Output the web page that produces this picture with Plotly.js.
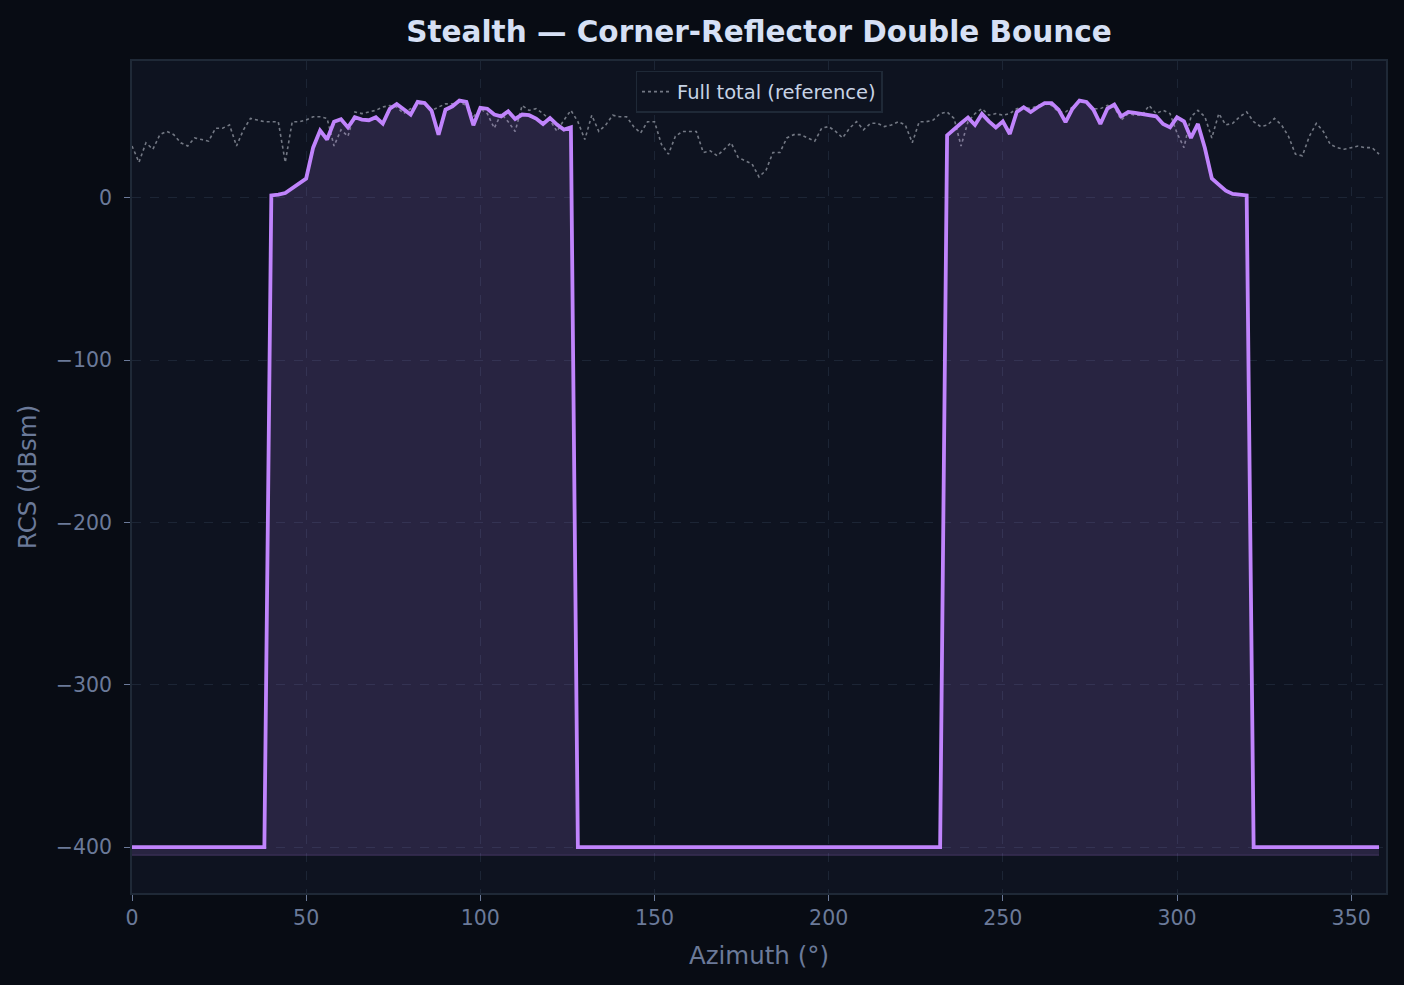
<!DOCTYPE html>
<html>
<head>
<meta charset="utf-8">
<script src="https://cdn.plot.ly/plotly-3.0.1.min.js"></script>
<style>
  html, body { margin: 0; padding: 0; background: #080c14; }
  #chart { width: 1404px; height: 985px; }
</style>
</head>
<body>
<div id="chart"></div>
<script>
// Azimuth samples, every 2 degrees
const azimuth = Array.from({length: 180}, (_, i) => i * 2);

// Full total RCS (reference), dBsm
const fullTotal = [
  32, 22, 34, 30, 39, 41, 39, 34, 32, 37,   // 0-18
  36, 35, 43, 43, 45, 32, 42, 49, 48, 47,   // 20-38
  47, 47, 22, 47, 47, 48, 50, 50, 49, 32,   // 40-58
  42, 38, 53, 52, 53, 54, 56, 57, 56, 52,   // 60-78
  55, 58, 58, 54, 56, 58, 58, 59, 57, 50,   // 80-98
  55, 52, 43, 52, 47, 41, 57, 54, 55, 52,   // 100-118
  48, 41, 48, 54, 47, 36, 51, 41, 45, 51,   // 120-138
  50, 50, 44, 40, 47, 47, 33, 27, 38, 41,   // 140-158
  41, 41, 28, 29, 26, 30, 34, 25, 23, 21,   // 160-178
  13, 17, 28, 28, 37, 39, 39, 37, 35, 43,   // 180-198
  44, 41, 37, 43, 47, 42, 46, 46, 44, 45,   // 200-218
  47, 45, 34, 47, 47, 48, 52, 53, 49, 32,   // 220-238
  47, 52, 55, 51, 52, 51, 52, 55, 56, 55,   // 240-258
  57, 58, 57, 53, 53, 56, 60, 59, 55, 55,   // 260-278
  57, 56, 48, 52, 51, 51, 57, 52, 54, 52,   // 280-298
  40, 31, 50, 54, 50, 37, 52, 45, 46, 50,   // 300-318
  53, 47, 44, 45, 49, 45, 38, 27, 26, 38,   // 320-338
  46, 41, 33, 31, 30, 31, 32, 31, 31, 27    // 340-358
];

// Corner-reflector double-bounce RCS, dBsm (-400 = no return)
const doubleBounce = [
  -400, -400, -400, -400, -400, -400, -400, -400, -400, -400,   // 0-18
  -400, -400, -400, -400, -400, -400, -400, -400, -400, -400,   // 20-38
  1.6, 2, 3, 6, 9, 12, 31, 41.5, 36, 47,                        // 40-58
  48.5, 43.5, 49.7, 48.3, 47.9, 49.7, 45.8, 55, 57.9, 54.4,     // 60-78
  51.4, 59.2, 58.5, 53.8, 39, 54.4, 56.5, 60, 59.2, 44.8,       // 80-98
  55.5, 55, 51.4, 50.3, 53.4, 48.7, 51.4, 51, 48.9, 45.6,       // 100-118
  49.3, 45.2, 42.1, 43.5, -400, -400, -400, -400, -400, -400,   // 120-138
  -400, -400, -400, -400, -400, -400, -400, -400, -400, -400,   // 140-158
  -400, -400, -400, -400, -400, -400, -400, -400, -400, -400,   // 160-178
  -400, -400, -400, -400, -400, -400, -400, -400, -400, -400,   // 180-198
  -400, -400, -400, -400, -400, -400, -400, -400, -400, -400,   // 200-218
  -400, -400, -400, -400, -400, -400, -400, 38.6, 42.5, 46,     // 220-238
  49.5, 45, 51.8, 47.2, 43.5, 47.2, 39.4, 53, 55.9, 53,         // 240-258
  55.9, 58.5, 58.5, 54.4, 46.8, 55, 60, 59.2, 54.4, 45.6,       // 260-278
  55, 57.5, 50.3, 53, 52.4, 51.8, 51.4, 50.3, 45.6, 43.5,       // 280-298
  49.7, 47.2, 37, 45.6, 30.8, 12, 8.2, 4.5, 2.5, 2,             // 300-318
  1.6, -400, -400, -400, -400, -400, -400, -400, -400, -400,    // 320-338
  -400, -400, -400, -400, -400, -400, -400, -400, -400, -400    // 340-358
];

// fill floor sits a little under the lowest value
const fillFloor = Math.min(...doubleBounce) - 5;
const floorLine = azimuth.map(() => fillFloor);

const purple = '#c084fc';
const tickColor = '#6b7a99';
const gridColor = '#1c2535';
const font = 'DejaVu Sans, sans-serif';

const traces = [
  {
    x: azimuth, y: fullTotal,
    type: 'scatter', mode: 'lines',
    name: 'Full total (reference)',
    line: { color: 'rgba(150,155,165,0.75)', width: 1.6, dash: 'dot' }
  },
  {
    x: azimuth, y: floorLine,
    type: 'scatter', mode: 'lines',
    showlegend: false, hoverinfo: 'skip',
    line: { color: 'rgba(192,132,252,0.22)', width: 1 }
  },
  {
    x: azimuth, y: doubleBounce,
    type: 'scatter', mode: 'lines',
    name: 'Double bounce', showlegend: false,
    fill: 'tonexty', fillcolor: 'rgba(192,132,252,0.15)',
    line: { color: purple, width: 3.8 }
  }
];

const axisCommon = {
  showgrid: true,
  gridcolor: gridColor,
  griddash: 'dash',
  gridwidth: 1,
  zeroline: false,
  showline: true,
  linecolor: '#1f2937',
  linewidth: 1.5,
  mirror: true,
  ticks: 'outside',
  ticklen: 6,
  tickwidth: 1.4,
  tickcolor: tickColor,
  tickfont: { family: font, size: 20.5, color: tickColor }
};

const layout = {
  width: 1404,
  height: 985,
  paper_bgcolor: '#080c14',
  plot_bgcolor: '#0e1320',
  margin: { l: 132, r: 18, t: 61, b: 92 },
  title: {
    text: '<b>Stealth — Corner-Reflector Double Bounce</b>',
    font: { family: font, size: 29.5, color: '#d6e0f5' },
    xref: 'paper', x: 0.5, xanchor: 'center', y: 0.968, yanchor: 'middle'
  },
  xaxis: Object.assign({}, axisCommon, {
    range: [0, 360],
    tickvals: [0, 50, 100, 150, 200, 250, 300, 350],
    title: { text: 'Azimuth (°)', font: { family: font, size: 24.5, color: tickColor }, standoff: 18 }
  }),
  yaxis: Object.assign({}, axisCommon, {
    range: [-428.3, 84.4],
    tickvals: [-400, -300, -200, -100, 0],
    ticklabelstandoff: 8,
    title: { text: 'RCS (dBsm)', font: { family: font, size: 24.5, color: tickColor }, standoff: 12 }
  }),
  legend: {
    x: 0.5, xanchor: 'center', y: 0.988, yanchor: 'top',
    bgcolor: '#0e1320', bordercolor: '#1f2937', borderwidth: 1.5,
    font: { family: font, size: 19.5, color: '#c8d3e6' }
  },
  showlegend: true
};

Plotly.newPlot('chart', traces, layout, { displayModeBar: false, responsive: false });
</script>
</body>
</html>
